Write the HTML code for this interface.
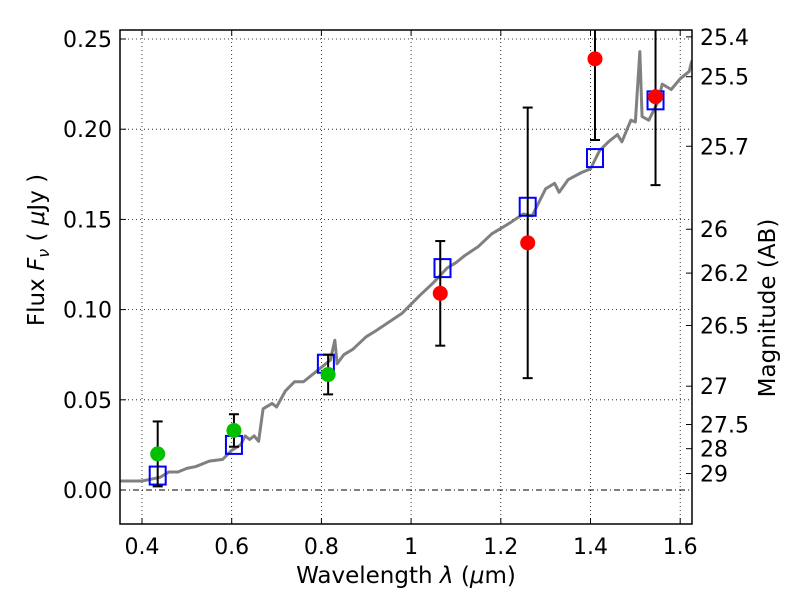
<!DOCTYPE html>
<html><head><meta charset="utf-8"><style>
body{margin:0;background:#fff}
svg text{font-family:"DejaVu Sans","Liberation Sans",sans-serif;fill:#000}
</style></head><body>
<svg id="c" width="800" height="600" xmlns="http://www.w3.org/2000/svg"></svg>
<script>
const xTicks=[0.4,0.6,0.8,1,1.2,1.4,1.6];
const xTickLabels=["0.4","0.6","0.8","1","1.2","1.4","1.6"];
const yTicks=[0,0.05,0.10,0.15,0.20,0.25];
const yTickLabels=["0.00","0.05","0.10","0.15","0.20","0.25"];
const magTicks=[25.4,25.5,25.7,26,26.2,26.5,27,27.5,28,29];
const magLabels=["25.4","25.5","25.7","26","26.2","26.5","27","27.5","28","29"];
const specX=[0.35,0.40,0.42,0.44,0.46,0.48,0.50,0.52,0.55,0.58,0.60,0.62,0.63,0.64,0.65,0.66,0.67,0.69,0.70,0.72,0.74,0.76,0.78,0.80,0.82,0.83,0.835,0.85,0.87,0.90,0.92,0.95,0.98,1.0,1.02,1.05,1.08,1.10,1.12,1.15,1.18,1.20,1.22,1.25,1.27,1.29,1.30,1.32,1.33,1.35,1.38,1.40,1.42,1.44,1.46,1.47,1.49,1.50,1.51,1.515,1.53,1.55,1.56,1.58,1.60,1.62,1.626];
const specY=[0.005,0.005,0.006,0.007,0.010,0.010,0.012,0.013,0.016,0.017,0.022,0.025,0.030,0.028,0.030,0.027,0.045,0.048,0.046,0.055,0.060,0.060,0.064,0.068,0.072,0.083,0.070,0.075,0.078,0.085,0.088,0.093,0.098,0.103,0.108,0.115,0.123,0.126,0.130,0.135,0.142,0.145,0.148,0.153,0.152,0.162,0.167,0.170,0.165,0.172,0.176,0.178,0.188,0.193,0.197,0.193,0.205,0.204,0.243,0.207,0.205,0.215,0.225,0.222,0.228,0.232,0.238];
const modelX=[0.435,0.605,0.81,1.07,1.26,1.41,1.545];
const modelY=[0.008,0.025,0.070,0.123,0.157,0.184,0.216];
const greenX=[0.435,0.605,0.815];
const greenY=[0.020,0.033,0.064];
const greenErr=[0.018,0.009,0.011];
const redX=[1.065,1.26,1.41,1.545];
const redY=[0.109,0.137,0.239,0.218];
const redErr=[0.029,0.075,0.045,0.049];

const L=120,R=692,T=30,B=524;
const X=v=>142+(v-0.4)*448.5;
const Y=v=>490-v*1804;
const NS="http://www.w3.org/2000/svg";
const svg=document.getElementById('c');
function mk(t,a,p){const e=document.createElementNS(NS,t);for(const k in a)e.setAttribute(k,a[k]);(p||svg).appendChild(e);return e;}

const clip=mk('clipPath',{id:'cp'});mk('rect',{x:L,y:T,width:R-L,height:B-T},clip);
const grid=mk('g',{});


xTicks.forEach(v=>{mk('line',{x1:X(v),x2:X(v),y1:T,y2:B,stroke:'#000','stroke-width':0.8,'stroke-dasharray':'1,3'},grid);});
yTicks.forEach(v=>{mk('line',{x1:L,x2:R,y1:Y(v),y2:Y(v),stroke:'#000','stroke-width':v===0?1:0.8,'stroke-dasharray':v===0?'6,3,1,3':'1,3'},grid);});

const plot=mk('g',{'clip-path':'url(#cp)'});
const sp=mk('polyline',{points:specX.map((x,i)=>X(x)+','+Y(specY[i])).join(' '),fill:'none',stroke:'#808080','stroke-width':3,'stroke-linejoin':'round'},plot);


function errbar(x,y,e,name){
  const g=mk('g',{},plot);
  
  
  mk('line',{x1:X(x),x2:X(x),y1:Y(y+e),y2:Y(y-e),stroke:'#000','stroke-width':2},g);
  [y+e,y-e].forEach(v=>mk('line',{x1:X(x)-5,x2:X(x)+5,y1:Y(v),y2:Y(v),stroke:'#000','stroke-width':2},g));
}
modelX.forEach((x,i)=>{const r=mk('rect',{x:X(x)-8,y:Y(modelY[i])-9,width:16,height:18,fill:'none',stroke:'#0000ff','stroke-width':2},plot);

});
greenX.forEach((x,i)=>errbar(x,greenY[i],greenErr[i],'green-errorbar'));
redX.forEach((x,i)=>errbar(x,redY[i],redErr[i],'red-errorbar'));
greenX.forEach((x,i)=>{const c=mk('circle',{cx:X(x),cy:Y(greenY[i]),r:7.5,fill:'#00c000'},plot);

});
redX.forEach((x,i)=>{const c=mk('circle',{cx:X(x),cy:Y(redY[i]),r:7.5,fill:'#ff0000'},plot);

});

const ax=mk('rect',{x:L,y:T,width:R-L,height:B-T,fill:'none',stroke:'#000','stroke-width':1.5});


xTicks.forEach((v,i)=>{
  mk('line',{x1:X(v),x2:X(v),y1:B,y2:B-6,stroke:'#000'});
  mk('line',{x1:X(v),x2:X(v),y1:T,y2:T+6,stroke:'#000'});
  const t=mk('text',{x:X(v),y:B+30,'font-size':22,'text-anchor':'middle'});t.textContent=xTickLabels[i];
  
  
});
yTicks.forEach((v,i)=>{
  mk('line',{x1:L,x2:L+6,y1:Y(v),y2:Y(v),stroke:'#000'});
  const t=mk('text',{x:L-8,y:Y(v)+8,'font-size':22,'text-anchor':'end'});t.textContent=yTickLabels[i];
  
  
});
magTicks.forEach((m,i)=>{
  const f=Math.pow(10,(23.9-m)/2.5);const y=Y(f);
  mk('line',{x1:R,x2:R-6,y1:y,y2:y,stroke:'#000'});
  const t=mk('text',{x:R+8,y:y+8,'font-size':22});t.textContent=magLabels[i];
  
  
});
let t=mk('text',{x:406,y:583,'font-size':23,'text-anchor':'middle'});
t.innerHTML='Wavelength  <tspan font-style="italic">λ</tspan> (<tspan font-style="italic">μ</tspan>m)';


t=mk('text',{x:0,y:0,'font-size':23,'text-anchor':'middle',transform:'translate(44,250) rotate(-90)'});
t.innerHTML='Flux  <tspan font-style="italic">F</tspan><tspan font-style="italic" font-size="16" dy="5">ν</tspan><tspan dy="-5">  (  </tspan><tspan font-style="italic">μ</tspan>Jy )';


t=mk('text',{x:0,y:0,'font-size':23,'text-anchor':'middle',transform:'translate(775,308) rotate(-90)'});
t.textContent='Magnitude (AB)';


</script>
</body></html>
